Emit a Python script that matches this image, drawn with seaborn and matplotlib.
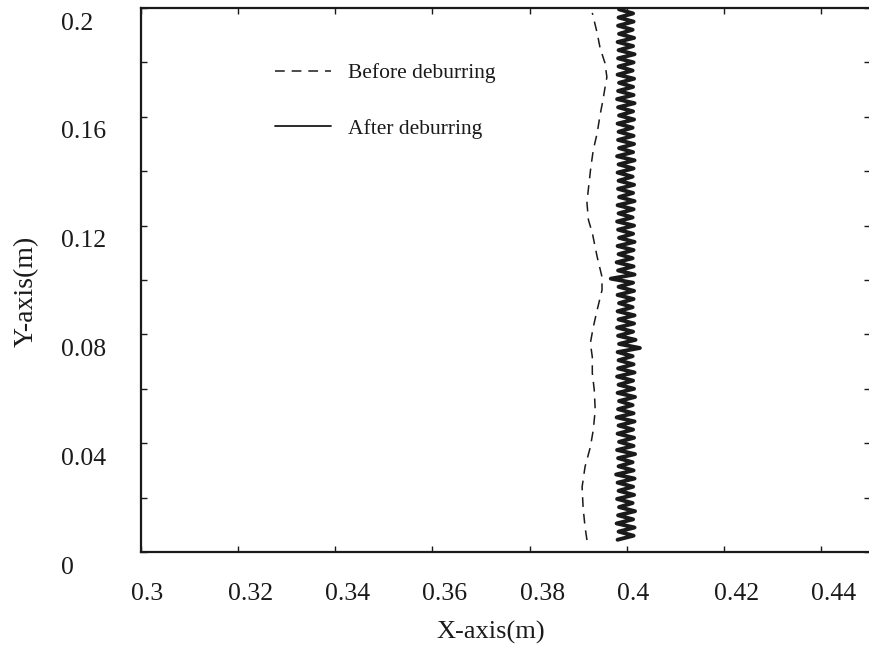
import matplotlib
matplotlib.use("Agg")
import numpy as np
import pandas as pd
import seaborn as sns
import matplotlib.pyplot as plt
from matplotlib.transforms import ScaledTranslation

# ---------------- data ----------------
series_labels = ["Before deburring", "After deburring"]

y_before = [0.0044, 0.0092, 0.0165, 0.0239, 0.0313, 0.0386, 0.0449, 0.0522,
            0.0596, 0.0658, 0.0717, 0.0768, 0.0827, 0.0890, 0.0963, 0.1011,
            0.1085, 0.1173, 0.1221, 0.1283, 0.1320, 0.1415, 0.1478, 0.1540,
            0.1607, 0.1662, 0.1706, 0.1746, 0.1798, 0.1853, 0.1908, 0.1982]
x_before = [0.3918, 0.3914, 0.3910, 0.3908, 0.3914, 0.3925, 0.3931, 0.3935,
            0.3933, 0.3929, 0.3929, 0.3925, 0.3931, 0.3939, 0.3949, 0.3949,
            0.3939, 0.3929, 0.3921, 0.3918, 0.3920, 0.3926, 0.3931, 0.3939,
            0.3945, 0.3951, 0.3955, 0.3959, 0.3955, 0.3945, 0.3939, 0.3929]

y_after = [0.0045, 0.0060, 0.0075, 0.0090, 0.0105, 0.0120, 0.0135, 0.0150, 0.0165, 0.0180,
           0.0195, 0.0210, 0.0225, 0.0240, 0.0255, 0.0270, 0.0285, 0.0300, 0.0315, 0.0330,
           0.0345, 0.0360, 0.0375, 0.0390, 0.0405, 0.0420, 0.0435, 0.0450, 0.0465, 0.0480,
           0.0495, 0.0510, 0.0525, 0.0540, 0.0555, 0.0570, 0.0585, 0.0600, 0.0615, 0.0630,
           0.0645, 0.0660, 0.0675, 0.0690, 0.0705, 0.0720, 0.0735, 0.0750, 0.0765, 0.0780,
           0.0795, 0.0810, 0.0825, 0.0840, 0.0855, 0.0870, 0.0885, 0.0900, 0.0915, 0.0930,
           0.0945, 0.0960, 0.0975, 0.0990, 0.1005, 0.1020, 0.1035, 0.1050, 0.1065, 0.1080,
           0.1095, 0.1110, 0.1125, 0.1140, 0.1155, 0.1170, 0.1185, 0.1200, 0.1215, 0.1230,
           0.1245, 0.1260, 0.1275, 0.1290, 0.1305, 0.1320, 0.1335, 0.1350, 0.1365, 0.1380,
           0.1395, 0.1410, 0.1425, 0.1440, 0.1455, 0.1470, 0.1485, 0.1500, 0.1515, 0.1530,
           0.1545, 0.1560, 0.1575, 0.1590, 0.1605, 0.1620, 0.1635, 0.1650, 0.1665, 0.1680,
           0.1695, 0.1710, 0.1725, 0.1740, 0.1755, 0.1770, 0.1785, 0.1800, 0.1815, 0.1830,
           0.1845, 0.1860, 0.1875, 0.1890, 0.1905, 0.1920, 0.1935, 0.1950, 0.1965, 0.1980,
           0.1995]
x_after = [0.3981, 0.4014, 0.3983, 0.4016, 0.3979, 0.4013, 0.3982, 0.4017, 0.3984, 0.4012,
           0.3980, 0.4015, 0.3983, 0.4013, 0.3981, 0.4016, 0.3978, 0.4014, 0.3983, 0.4012,
           0.3982, 0.4017, 0.3980, 0.4014, 0.3984, 0.4015, 0.3981, 0.4013, 0.3983, 0.4016,
           0.3979, 0.4014, 0.3982, 0.4012, 0.3984, 0.4017, 0.3981, 0.4015, 0.3983, 0.4013,
           0.3980, 0.4016, 0.3982, 0.4014, 0.3983, 0.4012, 0.3981, 0.4027, 0.3984, 0.4018,
           0.3982, 0.4013, 0.3980, 0.4015, 0.3983, 0.4016, 0.3981, 0.4012, 0.3984, 0.4014,
           0.3981, 0.4015, 0.3983, 0.4013, 0.3967, 0.4016, 0.3982, 0.4014, 0.3979, 0.4012,
           0.3983, 0.4014, 0.3981, 0.4016, 0.3984, 0.4013, 0.3982, 0.4015, 0.3980, 0.4012,
           0.3983, 0.4014, 0.3981, 0.4016, 0.3984, 0.4013, 0.3982, 0.4015, 0.3983, 0.4012,
           0.3981, 0.4014, 0.3983, 0.4016, 0.3980, 0.4013, 0.3984, 0.4015, 0.3982, 0.4014,
           0.3983, 0.4012, 0.3981, 0.4015, 0.3984, 0.4013, 0.3982, 0.4016, 0.3980, 0.4014,
           0.3982, 0.4013, 0.3984, 0.4015, 0.3981, 0.4012, 0.3983, 0.4014, 0.3982, 0.4016,
           0.3983, 0.4013, 0.3981, 0.4015, 0.3984, 0.4012, 0.3982, 0.4014, 0.3983, 0.4013,
           0.3984]

x_ticks = [0.30, 0.32, 0.34, 0.36, 0.38, 0.40, 0.42, 0.44]
x_tick_labels = ["0.3", "0.32", "0.34", "0.36", "0.38", "0.4", "0.42", "0.44"]
y_ticks = [0.00, 0.02, 0.04, 0.06, 0.08, 0.10, 0.12, 0.14, 0.16, 0.18, 0.20]
y_tick_labels = ["0", "", "0.04", "", "0.08", "", "0.12", "", "0.16", "", "0.2"]
x_label = "X-axis(m)"
y_label = "Y-axis(m)"

# ---------------- style ----------------
sns.set_theme(style="ticks")
plt.rcParams["font.family"] = ["Liberation Serif", "DejaVu Serif"]
plt.rcParams["lines.scale_dashes"] = False
INK = "#1a1a1a"

W, H = 870, 652
fig = plt.figure(figsize=(W / 100, H / 100), dpi=100)
fig.patch.set_facecolor("white")
ax = fig.add_axes([141 / W, 100 / H, 728.7 / W, 544 / H])
ax.set_facecolor("white")

df_before = pd.DataFrame({"x": x_before, "y": y_before})
df_after = pd.DataFrame({"x": x_after, "y": y_after})

sns.lineplot(data=df_before, x="x", y="y", sort=False, estimator=None, ax=ax,
             color=INK, linewidth=1.1, linestyle=(0, (7, 5)),
             label=series_labels[0])
sns.lineplot(data=df_after, x="x", y="y", sort=False, estimator=None, ax=ax,
             color=INK, linewidth=2.8, label=series_labels[1])

ax.set_xlim(0.30, 0.45)
ax.set_ylim(0.0, 0.20)
ax.set_xlabel("")
ax.set_ylabel("")

# spines
for side in ["left", "bottom", "top"]:
    ax.spines[side].set_linewidth(1.6)
    ax.spines[side].set_color(INK)
ax.spines["right"].set_visible(False)

ax.set_xticks(x_ticks)
ax.set_xticklabels(x_tick_labels)
ax.set_yticks(y_ticks)
ax.set_yticklabels(y_tick_labels)
ax.tick_params(axis="both", which="major", direction="in", length=4.3, width=1.0,
               color=INK, labelcolor=INK, labelsize=18.5,
               top=True, right=True)
ax.tick_params(axis="x", pad=22)
ax.tick_params(axis="y", pad=57.6)

dpi_t = fig.dpi_scale_trans
for lab in ax.get_xticklabels():
    lab.set_horizontalalignment("left")
    lab.set_transform(lab.get_transform() + ScaledTranslation(-10 / 100, 0, dpi_t))
for lab in ax.get_yticklabels():
    lab.set_horizontalalignment("left")
    lab.set_transform(lab.get_transform() + ScaledTranslation(0, -13 / 100, dpi_t))

# axis titles
fig.text(491 / W, 1 - 632 / H, x_label, ha="center", va="center",
         fontsize=19, color=INK)
fig.text(26 / W, 1 - 291 / H, y_label, ha="center", va="center",
         rotation=90, fontsize=20, color=INK)

# legend
leg = ax.legend(loc="upper left", bbox_to_anchor=(275 / W, 1 - 63 / H),
                bbox_transform=fig.transFigure, frameon=False, fontsize=15.5,
                handlelength=2.6, handletextpad=0.78, labelspacing=1.65,
                borderpad=0, borderaxespad=0)
for t in leg.get_texts():
    t.set_color(INK)
leg.get_lines()[1].set_linewidth(1.3)

fig.savefig("out.png", dpi=100, facecolor="white")
